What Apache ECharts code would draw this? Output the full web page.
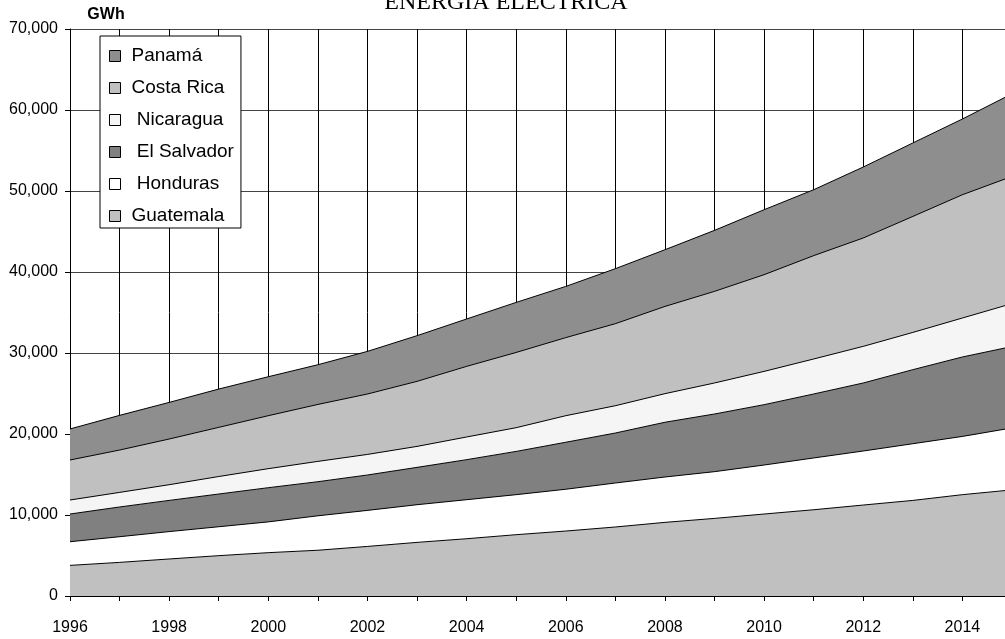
<!DOCTYPE html>
<html>
<head>
<meta charset="utf-8">
<script src="https://cdn.jsdelivr.net/npm/echarts@6/dist/echarts.min.js"></script>
<style>
html,body{margin:0;padding:0;background:#fff;overflow:hidden;width:1005px;height:639px;}
#chart{width:1012px;height:639px;}
</style>
</head>
<body>
<div id="chart"></div>
<script>
// ---- data (GWh) ----
const years = ['1996','1997','1998','1999','2000','2001','2002','2003','2004','2005','2006','2007','2008','2009','2010','2011','2012','2013','2014','2015'];
const guatemala  = [3780,4150,4570,4980,5350,5650,6120,6620,7070,7570,8020,8520,9090,9580,10120,10650,11230,11800,12510,13100];
const honduras   = [2920,3170,3380,3570,3800,4250,4450,4650,4820,4940,5160,5430,5600,5770,6050,6390,6670,7000,7190,7650];
const elSalvador = [3420,3670,3850,4040,4220,4210,4370,4610,4940,5340,5800,6170,6760,7120,7450,7900,8400,9140,9810,10050];
const nicaragua  = [1730,1800,1940,2160,2350,2510,2540,2590,2800,2930,3280,3370,3530,3830,4110,4320,4520,4600,4810,5300];
const costaRica  = [4940,5230,5640,6070,6540,7030,7460,8030,8720,9290,9640,10130,10770,11310,11940,12760,13380,14320,15220,15700];
const panama     = [3830,4280,4520,4730,4810,4900,5260,5640,5850,6180,6320,6790,7000,7530,8020,8140,8760,9070,9350,10200];

const seriesNames = ['Guatemala','Honduras','El Salvador','Nicaragua','Costa Rica','Panamá'];
const seriesValues = [guatemala, honduras, elSalvador, nicaragua, costaRica, panama];
const seriesColors = ['#c0c0c0','#ffffff','#808080','#f5f5f5','#c0c0c0','#8e8e8e'];
const legendOrder = ['Panamá','Costa Rica','Nicaragua','El Salvador','Honduras','Guatemala'];
const legendIndented = ['Nicaragua','El Salvador','Honduras'];
const titleText = 'ENERGÍA ELÉCTRICA';
const unitText = 'GWh';

const FONT = '"Liberation Sans", Arial, sans-serif';

const chart = echarts.init(document.getElementById('chart'), null, {renderer:'canvas', width: 1012, height: 639});

const series = seriesNames.map((name, i) => ({
  name: name,
  type: 'line',
  stack: 'total',
  symbol: 'none',
  smooth: false,
  data: seriesValues[i],
  itemStyle: {color: seriesColors[i]},
  lineStyle: {color: '#000', width: 1},
  areaStyle: {color: seriesColors[i], opacity: 1},
  emphasis: {disabled: true},
  xAxisIndex: 0,
  yAxisIndex: 0
}));

const option = {
  animation: false,
  backgroundColor: '#fff',
  textStyle: {fontFamily: FONT},
  grid: {left: 70, top: 29, bottom: 43, right: 0, containLabel: false, outerBoundsMode: 'none'},
  graphic: [
    {type: 'text', x: 506, y: 3,
     style: {text: titleText, fontFamily: '"Liberation Serif", "Times New Roman", serif', fontSize: 24,
             fill: '#000', align: 'center', verticalAlign: 'middle'}},
    {type: 'text', x: 106, y: 15,
     style: {text: unitText, fontFamily: FONT, fontSize: 16, fontWeight: 'bold',
             fill: '#000', align: 'center', verticalAlign: 'middle'}}
  ],
  legend: {
    data: legendOrder,
    orient: 'vertical',
    left: 100,
    top: 36,
    padding: [10, 7, 2, 9],
    itemGap: 12,
    itemWidth: 11,
    itemHeight: 11,
    icon: 'rect',
    backgroundColor: '#fff',
    borderColor: '#000',
    borderWidth: 1,
    itemStyle: {borderColor: '#000', borderWidth: 1},
    formatter: n => (legendIndented.includes(n) ? ' ' : '') + n,
    textStyle: {fontFamily: FONT, fontSize: 19, lineHeight: 20, color: '#000', padding: [0,0,0,6]},
    selectedMode: false
  },
  xAxis: [
    {
      type: 'category', data: years, boundaryGap: false, position: 'bottom',
      axisLine: {show: true, lineStyle: {color: '#000', width: 1}},
      axisTick: {show: true, inside: false, length: 5, interval: 0, lineStyle: {color: '#000'}},
      axisLabel: {show: true, interval: 1, margin: 24, fontFamily: FONT, fontSize: 16, color: '#000'},
      splitLine: {show: true, interval: 0, lineStyle: {color: '#000', width: 1}}
    },
    {
      type: 'category', data: years, boundaryGap: false, position: 'bottom',
      axisLine: {show: false},
      axisTick: {show: true, inside: true, length: 5, interval: 0, lineStyle: {color: '#000'}},
      axisLabel: {show: false},
      splitLine: {show: false}
    }
  ],
  yAxis: {
    type: 'value', min: 0, max: 70000, interval: 10000,
    axisLine: {show: true, lineStyle: {color: '#000', width: 1}},
    axisTick: {show: true, inside: false, length: 5, lineStyle: {color: '#000'}},
    axisLabel: {margin: 12, fontFamily: FONT, fontSize: 16, color: '#000',
                formatter: v => v.toLocaleString('en-US')},
    splitLine: {show: true, lineStyle: {color: '#444', width: 1}}
  },
  series: series
};
chart.setOption(option);
</script>
</body>
</html>
